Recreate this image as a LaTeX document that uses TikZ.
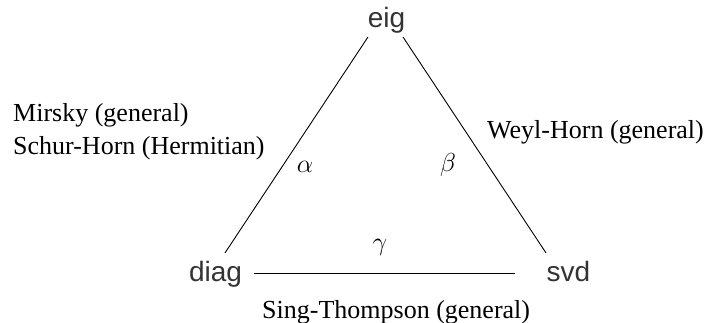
\documentclass[tikz,border=0pt]{standalone}
\usepackage{fix-cm}
\usepackage{fontspec}
\setmainfont{Liberation Serif}
\setsansfont{Liberation Sans}
\usepackage{tikz}
\usetikzlibrary{positioning}
\definecolor{namegray}{RGB}{51,51,51}

\begin{document}
\begin{tikzpicture}[
x=1pt, y=-1pt,
vertex/.style={font=\sffamily\fontsize{28}{34}\selectfont, text=namegray, inner sep=0pt, anchor=base},
note/.style={font=\rmfamily\fontsize{26}{31}\selectfont, inner sep=0pt, anchor=base west},
greek/.style={font=\fontsize{26}{31}\selectfont, inner sep=0pt},
side/.style={line width=0.9pt, draw=black}
]
\useasboundingbox (0,0) rectangle (709,323);
% the three spectra
\node[vertex] (eig) at (386.5,28) {eig};
\node[vertex] (diag) at (215.5,281) {diag};
\node[vertex] (svd) at (568.5,281) {svd};
% sides of the triangle
\draw[side] ([xshift=-18.5pt,yshift=-3pt]eig.south) -- ([xshift=9.5pt,yshift=7.6pt]diag.north);
\draw[side] ([xshift=16.5pt,yshift=-3pt]eig.south) -- ([xshift=-22.5pt,yshift=7.6pt]svd.north);
\draw[side, shorten <=12pt, shorten >=32pt] (diag.east) -- (diag.east -| svd.west);
\node[greek] (alpha) at (305,167) {$\alpha$};
\node[greek] (beta) at (448,165) {$\beta$};
\node[greek] (gamma) at (380,247) {$\gamma$};
% theorems
\node[note] (mirsky) at (13,122) {Mirsky (general)};
\node[note] (schur) at (13,155) {Schur-Horn (Hermitian)};
\node[note] (weyl) at (487,139) {Weyl-Horn (general)};
\node[note] (sing) at (262,318) {Sing-Thompson (general)};
\end{tikzpicture}
\end{document}
